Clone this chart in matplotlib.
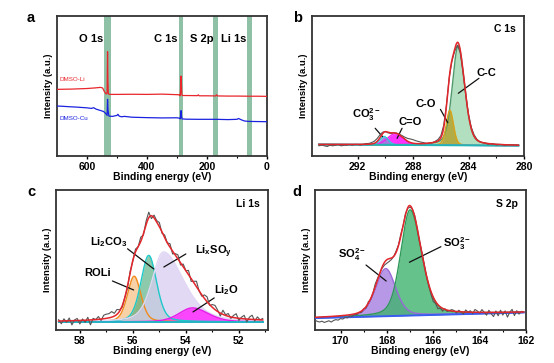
import matplotlib.pyplot as plt
import numpy as np

plt.rcParams['font.family'] = ['Liberation Sans', 'DejaVu Sans']
plt.rcParams['font.weight'] = 'bold'
plt.rcParams['axes.labelweight'] = 'bold'
plt.rcParams['mathtext.fontset'] = 'custom'
plt.rcParams['mathtext.rm'] = 'Liberation Sans:bold'
plt.rcParams['mathtext.bf'] = 'Liberation Sans:bold'
plt.rcParams['mathtext.it'] = 'Liberation Sans:bold'

# ---- panel a: survey spectra (normalised intensity) ----
li_E = [700, 650, 600, 575, 555, 548, 542, 536, 533, 531.5, 530.5, 529, 526, 500, 450, 400, 350, 300,
        292, 289, 286.5, 285, 284, 282, 270, 232, 229, 226, 200, 171, 168, 165, 130, 100, 60, 30, 0]
li_I = [0.476, 0.478, 0.482, 0.486, 0.49, 0.486, 0.46, 0.443, 0.45, 0.745, 0.55, 0.445, 0.44, 0.44, 0.441,
        0.44, 0.442, 0.438, 0.437, 0.43, 0.571, 0.5, 0.44, 0.432, 0.432, 0.431, 0.437, 0.43, 0.43, 0.429,
        0.437, 0.429, 0.428, 0.428, 0.427, 0.427, 0.426]
cu_E = [700, 680, 660, 640, 620, 600, 585, 578, 570, 555, 545, 538, 533, 531.5, 530, 527, 515, 500, 497, 493,
        485, 475, 450, 400, 350, 300, 292, 289, 286.5, 285, 283, 270, 230, 200, 170, 130, 100, 95, 85, 75,
        60, 30, 0]
cu_I = [0.357, 0.355, 0.352, 0.35, 0.347, 0.344, 0.34, 0.345, 0.335, 0.325, 0.318, 0.305, 0.29, 0.405, 0.33,
        0.285, 0.283, 0.29, 0.298, 0.285, 0.28, 0.283, 0.277, 0.274, 0.272, 0.273, 0.27, 0.265, 0.324, 0.28,
        0.265, 0.263, 0.262, 0.262, 0.262, 0.26, 0.262, 0.268, 0.258, 0.25, 0.247, 0.246, 0.245]
band_names = ['O 1s', 'C 1s', 'S 2p', 'Li 1s']
band_lo = [521, 279, 162, 50]
band_hi = [543, 295, 179, 66]
band_label_x = [0.161, 0.52, 0.687, 0.84]

# ---- fitted components: centre (eV), height, fwhm on the high-BE / low-BE side, lorentz fraction ----
c1s_names = ['C-C', 'C-O', 'C=O', r'CO$_\mathbf{3}^\mathbf{2-}$']
c1s_center = [284.75, 285.35, 289.3, 290.1]
c1s_height = [0.71, 0.25, 0.08, 0.06]
c1s_fwhm_hi = [1.0, 0.6, 1.3, 0.7]
c1s_fwhm_lo = [1.1, 0.6, 1.3, 0.7]
c1s_eta = [0.3, 0.2, 0.2, 0.2]
c1s_bg = [0.082, 0.074]          # background at high-BE end and low-BE end
c1s_range = [294.8, 280.4]
c1s_resid = [-0.01, -0.005, -0.01, -0.015, -0.005, -0.01, -0.005, 0.0, -0.01, -0.005,
             -0.005, 0.0, -0.005, 0.0, 0.0, -0.005, 0.0, 0.005, 0.005, 0.01,
             0.015, 0.02, 0.02, 0.01, 0.0, -0.005, -0.005, 0.0, 0.0, 0.005,
             0.01, 0.015, 0.02, 0.025, 0.025, 0.02, 0.015, 0.01, 0.005, 0.0,
             0.0, 0.0, 0.005, 0.01, 0.015, 0.02, 0.01, 0.0, -0.01, -0.015,
             -0.02, -0.02, -0.01, 0.0, 0.005, 0.01, 0.01, 0.005, 0.0, 0.0,
             0.0, -0.005, 0.0, 0.0, -0.005, 0.0, 0.0, -0.005, 0.0, 0.0,
             0.0, 0.0, 0.0]

li1s_names = ['ROLi', r'Li$_\mathbf{2}$CO$_\mathbf{3}$', r'Li$_\mathbf{x}$SO$_\mathbf{y}$', r'Li$_\mathbf{2}$O']
li1s_center = [55.95, 55.4, 54.85, 53.75]
li1s_height = [0.326, 0.475, 0.5, 0.1]
li1s_fwhm_hi = [0.6, 0.7, 1.0, 1.2]
li1s_fwhm_lo = [0.6, 0.7, 1.8, 1.4]
li1s_eta = [0.3, 0.3, 0.4, 0.3]
li1s_bg = [0.058, 0.058]
li1s_range = [58.8, 51.1]
li1s_resid = [0.01, -0.02, 0.015, -0.01, 0.02, -0.03, 0.005, 0.015, -0.025, 0.01,
              -0.015, 0.02, -0.035, 0.01, 0.0, 0.02, -0.01, 0.025, 0.03,
              0.03, 0.04, 0.02, 0.035, 0.01, -0.01, 0.0, -0.015, 0.01, -0.005,
              0.02, 0.0, 0.03, -0.01, 0.025, 0.04, -0.02, 0.02, 0.01, 0.03,
              -0.01, 0.02, 0.0, 0.025, -0.02, 0.01, 0.03, -0.015, 0.02, 0.0,
              0.03, -0.02, 0.01, 0.04, 0.0, -0.01, 0.025, 0.035, -0.005, 0.02,
              0.03, 0.01, -0.02, 0.03, 0.005, 0.02, -0.01, 0.015, 0.03, -0.015,
              0.01, 0.025, -0.02, 0.015, 0.03, -0.01, 0.02, 0.0, 0.01]

s2p_names = [r'SO$_\mathbf{4}^\mathbf{2-}$', r'SO$_\mathbf{3}^\mathbf{2-}$']
s2p_center = [168.05, 167.0]
s2p_height = [0.34, 0.755]
s2p_fwhm_hi = [1.0, 0.95]
s2p_fwhm_lo = [1.0, 1.15]
s2p_eta = [0.3, 0.3]
s2p_bg = [0.085, 0.125]
s2p_range = [171.1, 162.1]
s2p_resid = [-0.02, -0.03, -0.035, -0.03, -0.04, -0.035, -0.03, -0.04, -0.03, -0.025,
             -0.03, -0.02, -0.025, -0.015, -0.02, -0.01, -0.015, -0.005, -0.01, 0.0,
             -0.01, 0.005, -0.01, 0.01, -0.005, 0.0, 0.02, 0.01, 0.0, -0.01,
             -0.02, -0.025, -0.02, -0.01, 0.0, 0.01, 0.005, 0.015, 0.0, 0.01,
             -0.005, -0.01, 0.0, 0.01, 0.0, -0.01, 0.005, 0.01, -0.005, -0.01,
             -0.02, -0.03, -0.015, -0.03, -0.01, -0.02, 0.005, -0.01, 0.0, 0.01,
             0.005, -0.01, 0.01, 0.0, -0.015, 0.015, 0.0, 0.01, -0.01, 0.02,
             0.01, -0.005, 0.02, 0.0, -0.02, 0.015, -0.01, -0.03, 0.01, -0.025,
             0.015, -0.02, 0.01, -0.035, 0.0, 0.02, -0.025, 0.01, -0.015, 0.005,
             0.0]

RED = '#e3262b'
GRAY = '#555555'


def pvoigt(E, c, h, w_hi, w_lo, eta):
    w = np.where(E >= c, w_hi, w_lo)
    x = (E - c) / w
    g = np.exp(-4 * np.log(2) * x ** 2)
    l = 1 / (1 + 4 * x ** 2)
    return h * ((1 - eta) * g + eta * l)


def style(ax, xlim, major, minor):
    ax.set_xlim(*xlim)
    ax.set_ylim(0, 1)
    ax.set_yticks([])
    ax.set_xticks(major)
    ax.set_xticks(minor, minor=True)
    ax.tick_params(axis='x', which='major', direction='out', length=2.5, width=1, labelsize=7.5, pad=1.5)
    ax.tick_params(axis='x', which='minor', direction='out', length=1.5, width=0.8)
    for sp in ax.spines.values():
        sp.set_color('#333333')
        sp.set_linewidth(1.3)
    ax.set_xlabel('Binding energy (eV)', fontsize=7.5, labelpad=0.5)
    ax.set_ylabel('Intensity (a.u.)', fontsize=6.8, labelpad=3)


def draw_fit(ax, rng, bg, params, resid, fills, edges, alphas, bg_color):
    E = np.linspace(rng[0], rng[1], 600)
    base = np.interp(E, [rng[1], rng[0]], [bg[1], bg[0]])
    comps = [pvoigt(E, *p) for p in params]
    for comp, fc, ec, a in zip(comps, fills, edges, alphas):
        ax.fill_between(E, base, base + comp, color=fc, alpha=a, lw=0, zorder=1)
        ax.plot(E, base + comp, color=ec, lw=1.0, zorder=2)
    ax.plot(E, base, color=bg_color, lw=1.4, zorder=3)
    Ex = np.linspace(rng[0], rng[1], len(resid))
    basex = np.interp(Ex, [rng[1], rng[0]], [bg[1], bg[0]])
    envx = basex + sum(pvoigt(Ex, *p) for p in params)
    ax.plot(Ex, envx + np.array(resid), color=GRAY, lw=0.8, zorder=4)
    ax.plot(E, base + sum(comps), color=RED, lw=1.1, zorder=5)


def leader(ax, start, tip):
    ax.annotate('', xy=tip, xytext=start,
                arrowprops=dict(arrowstyle='-', color='#111111', lw=0.9, shrinkA=0, shrinkB=0))


fig = plt.figure(figsize=(5.54, 3.63), dpi=100)
W, H = 554, 363


def box(l, t, r, b):
    return [l / W, 1 - b / H, (r - l) / W, (b - t) / H]


ax_a = fig.add_axes(box(57, 16, 267, 156))
ax_b = fig.add_axes(box(312, 16, 524, 156))
ax_c = fig.add_axes(box(56, 190, 268, 330))
ax_d = fig.add_axes(box(315, 190, 526, 330))

# ---- a ----
style(ax_a, (700, 0), [600, 400, 200, 0], [500, 300, 100])
for lo, hi, name, tx in zip(band_lo, band_hi, band_names, band_label_x):
    ax_a.axvspan(lo, hi, color='#8fc1a6', lw=0, zorder=0)
    ax_a.text(tx, 0.834, name, transform=ax_a.transAxes, ha='center', va='center', fontsize=8)
ax_a.plot(li_E, li_I, color='#e8262b', lw=0.9, zorder=3)
ax_a.plot(cu_E, cu_I, color='#1a22e0', lw=0.9, zorder=3)
ax_a.text(0.014, 0.543, 'DMSO-Li', transform=ax_a.transAxes, color='#e8262b', fontsize=4.5,
          fontweight='normal', va='center')
ax_a.text(0.014, 0.27, 'DMSO-Cu', transform=ax_a.transAxes, color='#1a22e0', fontsize=4.5,
          fontweight='normal', va='center')

# ---- b ----
style(ax_b, (295.3, 280), [292, 288, 284, 280], [290, 286, 282])
draw_fit(ax_b, c1s_range, c1s_bg,
         list(zip(c1s_center, c1s_height, c1s_fwhm_hi, c1s_fwhm_lo, c1s_eta)), c1s_resid,
         fills=['#9fd8b0', '#b3a433', '#ff1cff', '#9b7fe0'],
         edges=['#4f9a6c', '#d6a31a', '#ee22ee', '#2ad0d8'],
         alphas=[0.8, 0.85, 0.9, 0.9], bg_color='#22b5b5')
ax_b.text(0.96, 0.905, 'C 1s', transform=ax_b.transAxes, ha='right', va='center', fontsize=7.5)
ax_b.text(282.73, 0.595, c1s_names[0], ha='center', va='center', fontsize=8)
leader(ax_b, (283.25, 0.555), (284.74, 0.448))
ax_b.text(287.08, 0.371, c1s_names[1], ha='center', va='center', fontsize=8)
leader(ax_b, (286.03, 0.333), (285.5, 0.238))
ax_b.text(288.23, 0.245, c1s_names[2], ha='center', va='center', fontsize=8)
leader(ax_b, (288.8, 0.198), (289.16, 0.126))
ax_b.text(291.34, 0.293, c1s_names[3], ha='center', va='center', fontsize=8)
leader(ax_b, (290.74, 0.198), (290.21, 0.138))

# ---- c ----
style(ax_c, (58.9, 50.9), [58, 56, 54, 52], [57, 55, 53, 51])
draw_fit(ax_c, li1s_range, li1s_bg,
         list(zip(li1s_center, li1s_height, li1s_fwhm_hi, li1s_fwhm_lo, li1s_eta)), li1s_resid,
         fills=['#f7b978', '#3fa873', '#d9cdf2', '#ff2cff'],
         edges=['#f08a1c', '#1ec9c9', '#e2d8f5', '#e81ae8'],
         alphas=[0.65, 0.6, 0.75, 0.85], bg_color='#22b5c5')
ax_c.text(0.96, 0.9, 'Li 1s', transform=ax_c.transAxes, ha='right', va='center', fontsize=7.5)
ax_c.text(56.92, 0.63, li1s_names[1], ha='center', va='center', fontsize=8)
leader(ax_c, (56.2, 0.58), (55.21, 0.436))
ax_c.text(52.97, 0.557, li1s_names[2], ha='center', va='center', fontsize=8)
leader(ax_c, (54.0, 0.543), (54.83, 0.45))
ax_c.text(57.34, 0.407, li1s_names[0], ha='center', va='center', fontsize=8)
leader(ax_c, (56.77, 0.35), (55.97, 0.286))
ax_c.text(52.47, 0.286, li1s_names[3], ha='center', va='center', fontsize=8)
leader(ax_c, (52.93, 0.229), (53.73, 0.129))

# ---- d ----
style(ax_d, (171.1, 162.0), [170, 168, 166, 164, 162], [169, 167, 165, 163])
draw_fit(ax_d, s2p_range, s2p_bg,
         list(zip(s2p_center, s2p_height, s2p_fwhm_hi, s2p_fwhm_lo, s2p_eta)), s2p_resid,
         fills=['#a57ee0', '#3fb36e'],
         edges=['#9a6ad8', '#2f9a5a'],
         alphas=[0.8, 0.8], bg_color='#3a5cf0')
ax_d.text(0.96, 0.9, 'S 2p', transform=ax_d.transAxes, ha='right', va='center', fontsize=7.5)
ax_d.text(169.48, 0.536, s2p_names[0], ha='center', va='center', fontsize=8)
leader(ax_d, (168.9, 0.464), (168.03, 0.35))
ax_d.text(164.99, 0.614, s2p_names[1], ha='center', va='center', fontsize=8)
leader(ax_d, (165.67, 0.595), (167.03, 0.484))

for letter, x, y in [('a', 27, 18), ('b', 293, 18), ('c', 27, 192), ('d', 292, 192)]:
    fig.text(x / W, 1 - y / H, letter, fontsize=10.5, fontweight='bold', ha='left', va='center')

fig.savefig('out.png', dpi=100)
